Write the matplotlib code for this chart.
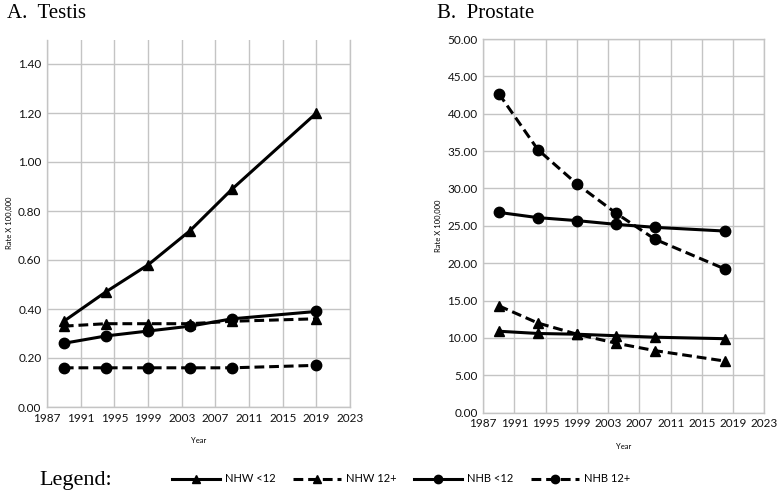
import matplotlib
matplotlib.use("Agg")
from matplotlib import pyplot as plt
from matplotlib.lines import Line2D

# data
years_testis = [1989, 1994, 1999, 2004, 2009, 2019]
years_prostate = [1989, 1994, 1999, 2004, 2009, 2018]

testis_nhw_lt12 = [0.35, 0.47, 0.58, 0.72, 0.89, 1.20]
testis_nhw_12p = [0.33, 0.34, 0.34, 0.34, 0.35, 0.36]
testis_nhb_lt12 = [0.26, 0.29, 0.31, 0.33, 0.36, 0.39]
testis_nhb_12p = [0.16, 0.16, 0.16, 0.16, 0.16, 0.17]

prostate_nhw_lt12 = [10.9, 10.6, 10.5, 10.3, 10.1, 9.9]
prostate_nhw_12p = [14.3, 12.0, 10.5, 9.3, 8.3, 6.9]
prostate_nhb_lt12 = [26.8, 26.1, 25.7, 25.2, 24.8, 24.3]
prostate_nhb_12p = [42.7, 35.2, 30.6, 26.7, 23.2, 19.2]

series_labels = ["NHW <12", "NHW 12+", "NHB <12", "NHB 12+"]
x_ticks = list(range(1987, 2024, 4))
testis_yticks = [0.0, 0.2, 0.4, 0.6, 0.8, 1.0, 1.2, 1.4]
prostate_yticks = [0, 5, 10, 15, 20, 25, 30, 35, 40, 45, 50]

styles = [
    dict(linestyle="-", marker="^"),
    dict(linestyle=(0, (3.2, 1.6)), marker="^"),
    dict(linestyle="-", marker="o"),
    dict(linestyle=(0, (3.2, 1.6)), marker="o"),
]

TICK_FONT = "Lato"
SERIF = "Liberation Serif"
GRID = "#c4c4c4"

fig = plt.figure(figsize=(7.78, 5.0), dpi=100)
ax1 = fig.add_axes([0.0604, 0.186, 0.3896, 0.735])
ax2 = fig.add_axes([0.621, 0.1746, 0.3616, 0.7474])


def draw_panel(ax, years, series, yticks, ymax, fmt, top_box):
    for values, st in zip(series, styles):
        ax.plot(years, values, color="black", linewidth=2.2,
                markersize=7.5, **st, zorder=3)
    ax.set_xlim(1987, 2023)
    ax.set_ylim(0, ymax)
    ax.set_xticks(x_ticks)
    ax.set_yticks(yticks)
    ax.set_yticklabels([fmt.format(v) for v in yticks])
    ax.grid(True, color=GRID, linewidth=1.0, zorder=0)
    ax.tick_params(length=0, labelsize=8.5, colors="#111111", pad=4)
    for lbl in ax.get_xticklabels() + ax.get_yticklabels():
        lbl.set_fontfamily(TICK_FONT)
    for name, sp in ax.spines.items():
        sp.set_color(GRID)
        sp.set_linewidth(1.0)
    if not top_box:
        ax.spines["top"].set_visible(False)
    ax.set_xlabel("Year", fontsize=5.5, family=TICK_FONT, labelpad=10)
    ax.set_ylabel("Rate X 100,000", fontsize=5.5, family=TICK_FONT, labelpad=4)


draw_panel(ax1, years_testis,
           [testis_nhw_lt12, testis_nhw_12p, testis_nhb_lt12, testis_nhb_12p],
           testis_yticks, 1.5, "{:.2f}", False)
draw_panel(ax2, years_prostate,
           [prostate_nhw_lt12, prostate_nhw_12p, prostate_nhb_lt12, prostate_nhb_12p],
           prostate_yticks, 50, "{:.2f}", True)

fig.text(0.009, 0.972, "A.  Testis", family=SERIF, fontsize=15, va="center")
fig.text(0.562, 0.972, "B.  Prostate", family=SERIF, fontsize=15, va="center")
fig.text(0.051, 0.04, "Legend:", family=SERIF, fontsize=16, va="center")

handles = [Line2D([], [], color="black", linewidth=2.2, markersize=6, **st)
           for st in styles]
fig.legend(handles, series_labels, loc="center left", bbox_to_anchor=(0.221, 0.042),
           ncol=4, frameon=False, borderpad=0, borderaxespad=0,
           handlelength=4.3, handletextpad=0.45, columnspacing=1.6,
           prop={"family": TICK_FONT, "size": 8})

fig.savefig("out.png", dpi=100)
